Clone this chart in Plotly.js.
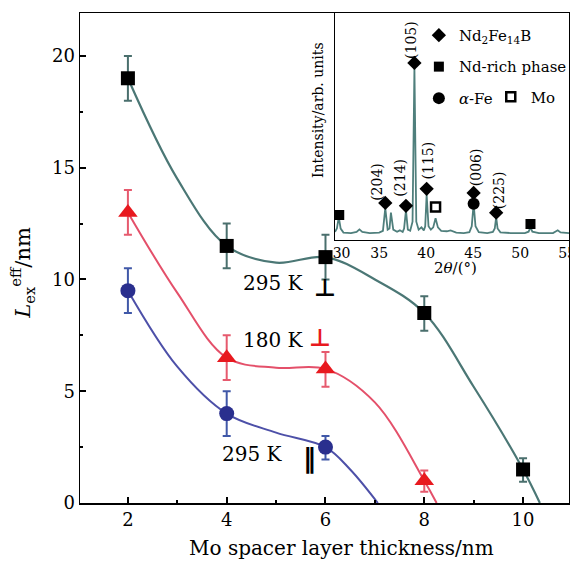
<!DOCTYPE html>
<html>
<head>
<meta charset="utf-8">
<script src="https://cdn.plot.ly/plotly-3.0.1.min.js"></script>
<style>html,body{margin:0;padding:0;background:#fff;}#chart{width:570px;height:561px;}</style>
</head>
<body>
<div id="chart"></div>
<script>
// ---- Main plot data ----
const thickness = [2, 4, 6, 8, 10];
const perp295 = [19, 11.5, 11, 8.5, 1.5];
const perp295ErrPlus = [1, 1, 1, 0.75, 0.5];
const perp295ErrMinus = [1, 1, 1, 0.8, 0.55];
const perp180 = [13, 6.5, 6, 1];
const perp180ErrPlus = [1, 1, 0.75, 0.45];
const perp180ErrMinus = [1, 1, 0.8, 0.5];
const par295 = [9.5, 4, 2.5];
const par295ErrPlus = [1, 1, 0.5];
const par295ErrMinus = [1, 1, 0.55];

// fitted guide curves
const fitPerp295X = [2, 3, 4, 5, 6, 7, 8, 9, 10, 10.34];
const fitPerp295Y = [19, 14.5, 11.5, 10.75, 11, 10, 8.5, 5.2, 1.5, 0];
const fitPerp180X = [2, 3, 4, 5, 6, 7, 8, 8.25];
const fitPerp180Y = [13, 9.4, 6.5, 6.05, 6, 4.5, 1, 0];
const fitPar295X = [2, 3, 4, 5, 6, 6.5, 7.06];
const fitPar295Y = [9.5, 6.1, 4, 3.15, 2.5, 1.5, 0];

const xTicks = [2, 4, 6, 8, 10];
const yTicks = [0, 5, 10, 15, 20];

// ---- Inset XRD data ----
const xrdTheta = [30.3, 30.5, 30.7, 30.9, 31.2, 32.0, 32.6, 32.9, 33.2, 34.0, 35.0, 35.4, 35.65, 35.9, 36.1, 36.25, 36.5, 36.9, 37.2, 37.5, 37.65, 37.85, 38.05, 38.3, 38.55, 38.75, 38.95, 39.2, 39.5, 39.75, 39.9, 40.05, 40.25, 40.5, 40.75, 41.0, 41.25, 41.6, 42.2, 42.6, 43.2, 44.0, 44.6, 44.85, 45.05, 45.25, 45.6, 46.5, 47.1, 47.3, 47.45, 47.6, 47.9, 49.0, 50.5, 50.9, 51.1, 51.3, 52.0, 53.5, 54.0, 54.3, 55.2];
const xrdIntensity = [3.5, 5, 10, 5, 3.2, 3.0, 3.5, 4.6, 3.5, 3.0, 3.2, 4, 14, 4.5, 5, 12, 4.5, 3.6, 4.2, 3.5, 5, 13, 4.5, 4, 8, 76, 8, 4.5, 5.5, 4.2, 6, 20, 6, 4.5, 5.5, 9.5, 5.5, 4, 3.8, 4.2, 3.2, 3, 3.4, 6, 16, 6, 3.4, 3, 3.5, 5, 10, 5, 3.3, 3, 3, 3.6, 5.5, 3.6, 3, 3, 4.2, 3.3, 3];

const nd2fe14bTheta = [35.65, 37.85, 38.75, 40.05, 45.05, 47.45];
const nd2fe14bMark = [16.3, 15, 78, 22.5, 20.7, 12];
const ndRichTheta = [30.75, 51.1];
const ndRichMark = [11, 7];
const alphaFeTheta = [45.05];
const alphaFeMark = [15.9];
const moTheta = [41.0];
const moMark = [14.5];

const peakLabels = ['(204)', '(214)', '(105)', '(115)', '(006)', '(225)'];
const peakLabelTheta = [34.75, 37.19, 38.46, 40.15, 45.24, 47.78];
const peakLabelY = [25.5, 27.3, 88, 34.8, 32.2, 22];

const insetTickVals = [31.0, 35, 40, 45, 50, 55];
const insetTickText = ['30', '35', '40', '45', '50', '55'];

const FONT = 'DejaVu Serif, Liberation Serif, serif';
const cBlackLine = '#4b7775';
const cRedLine = '#e4506a';
const cBlueLine = '#4d50a8';

const traces = [
  {x: fitPerp295X, y: fitPerp295Y, mode: 'lines', line: {shape: 'spline', smoothing: 1, color: cBlackLine, width: 2.2}, showlegend: false, hoverinfo: 'skip'},
  {x: fitPerp180X, y: fitPerp180Y, mode: 'lines', line: {shape: 'spline', smoothing: 1, color: cRedLine, width: 2}, showlegend: false, hoverinfo: 'skip'},
  {x: fitPar295X, y: fitPar295Y, mode: 'lines', line: {shape: 'spline', smoothing: 1, color: cBlueLine, width: 2}, showlegend: false, hoverinfo: 'skip'},
  {x: thickness, y: perp295, mode: 'markers', marker: {symbol: 'square', size: 14, color: '#000'},
   error_y: {type: 'data', array: perp295ErrPlus, arrayminus: perp295ErrMinus, color: '#4a6f6d', thickness: 2, width: 4}, showlegend: false},
  {x: thickness.slice(0, perp180.length), y: perp180, mode: 'markers', marker: {symbol: 'triangle-up', size: 17, color: '#e8191f'},
   error_y: {type: 'data', array: perp180ErrPlus, arrayminus: perp180ErrMinus, color: '#e65a6e', thickness: 2, width: 4}, showlegend: false},
  {x: thickness.slice(0, par295.length), y: par295, mode: 'markers', marker: {symbol: 'circle', size: 15, color: '#2a2f8e'},
   error_y: {type: 'data', array: par295ErrPlus, arrayminus: par295ErrMinus, color: '#4058a8', thickness: 2, width: 4}, showlegend: false},
  // inset
  {x: xrdTheta, y: xrdIntensity, xaxis: 'x2', yaxis: 'y2', mode: 'lines', line: {color: '#4f7f7c', width: 1.8}, showlegend: false, hoverinfo: 'skip'},
  {x: nd2fe14bTheta, y: nd2fe14bMark, xaxis: 'x2', yaxis: 'y2', mode: 'markers', name: 'Nd<sub>2</sub>Fe<sub>14</sub>B',
   marker: {symbol: 'diamond', size: 11, color: '#000'}, legend: 'legend', legendgroup: 'a'},
  {x: ndRichTheta, y: ndRichMark, xaxis: 'x2', yaxis: 'y2', mode: 'markers', name: 'Nd-rich phase',
   marker: {symbol: 'square', size: 10, color: '#000'}, legend: 'legend', legendgroup: 'b'},
  {x: alphaFeTheta, y: alphaFeMark, xaxis: 'x2', yaxis: 'y2', mode: 'markers', name: '<i>α</i>-Fe',
   marker: {symbol: 'circle', size: 12, color: '#000'}, legend: 'legend', legendgroup: 'c'},
  {x: moTheta, y: moMark, xaxis: 'x2', yaxis: 'y2', mode: 'markers', name: 'Mo',
   marker: {symbol: 'square-open', size: 9, color: '#000', line: {width: 2.5}}, legend: 'legend2', legendgroup: 'd'}
];

const C = {xanchor: 'center', yanchor: 'middle', showarrow: false};
const annotations = [
  Object.assign({xref: 'paper', yref: 'paper', x: -0.1186, y: 0.47, text: '<i>L</i><sub>ex</sub><sup>eff</sup>/nm', textangle: -90, font: {family: FONT, size: 21, color: '#000'}}, C),
  Object.assign({xref: 'paper', yref: 'paper', x: 0.534, y: -0.0918, text: 'Mo spacer layer thickness/nm', font: {family: FONT, size: 20, color: '#000'}}, C),
  Object.assign({xref: 'x', yref: 'y', x: 4.94, y: 9.84, text: '295 K', font: {family: FONT, size: 20, color: '#000'}}, C),
  Object.assign({xref: 'x', yref: 'y', x: 5.98, y: 9.6, text: '<b>⊥</b>', font: {family: 'DejaVu Sans', size: 24, color: '#000'}}, C),
  Object.assign({xref: 'x', yref: 'y', x: 4.94, y: 7.29, text: '180 K', font: {family: FONT, size: 20, color: '#000'}}, C),
  Object.assign({xref: 'x', yref: 'y', x: 5.88, y: 7.4, text: '<b>⊥</b>', font: {family: 'DejaVu Sans', size: 24, color: '#e8191f'}}, C),
  Object.assign({xref: 'x', yref: 'y', x: 4.53, y: 2.2, text: '295 K', font: {family: FONT, size: 20, color: '#000'}}, C),
  Object.assign({xref: 'x', yref: 'y', x: 5.68, y: 2.0, text: '<b>‖</b>', font: {family: 'DejaVu Sans', size: 26, color: '#000'}}, C),
  Object.assign({xref: 'paper', yref: 'paper', x: 0.4867, y: 0.802, text: 'Intensity/arb. units', textangle: -90, font: {family: FONT, size: 14, color: '#000'}}, C),
  Object.assign({xref: 'paper', yref: 'paper', x: 0.767, y: 0.48, text: '2<i>θ</i>/(°)', font: {family: FONT, size: 15, color: '#000'}}, C)
];
peakLabels.forEach((t, i) => {
  annotations.push(Object.assign({xref: 'x2', yref: 'y2', x: peakLabelTheta[i], y: peakLabelY[i], text: t, textangle: -90, font: {family: FONT, size: 14, color: '#000'}}, C));
});

const layout = {
  width: 570, height: 561,
  margin: {l: 80, r: 1, t: 13, b: 58, autoexpand: false},
  paper_bgcolor: '#fff', plot_bgcolor: '#fff',
  font: {family: FONT, color: '#000'},
  xaxis: {domain: [0, 1], range: [1.03, 10.93], tickvals: xTicks, ticks: 'inside', ticklen: 6, tickwidth: 2, tickcolor: '#000',
    minor: {dtick: 1, ticks: 'inside', ticklen: 3, tickwidth: 2, tickcolor: '#000'},
    showline: true, mirror: true, linecolor: '#000', linewidth: 1.5, showgrid: false, zeroline: false,
    tickfont: {family: FONT, size: 18}},
  yaxis: {domain: [0, 1], range: [0, 21.92], tickvals: yTicks, ticks: 'inside', ticklen: 6, tickwidth: 2, tickcolor: '#000',
    minor: {dtick: 2.5, ticks: 'inside', ticklen: 3, tickwidth: 2, tickcolor: '#000'},
    showline: true, mirror: true, linecolor: '#000', linewidth: 1.5, showgrid: false, zeroline: false,
    tickfont: {family: FONT, size: 18}},
  xaxis2: {domain: [0.5215, 1], anchor: 'y2', range: [30.3, 55.2], tickvals: insetTickVals, ticktext: insetTickText, ticks: '',
    showline: true, mirror: true, linecolor: '#000', linewidth: 1.5, showgrid: false, zeroline: false,
    ticklabeloverflow: 'allow', tickfont: {family: FONT, size: 14}},
  yaxis2: {domain: [0.537, 1], anchor: 'x2', range: [0, 100], showticklabels: false, ticks: '',
    showline: true, mirror: true, linecolor: '#000', linewidth: 1.5, showgrid: false, zeroline: false},
  legend: {x: 0.693, y: 0.988, xanchor: 'left', yanchor: 'top', bgcolor: 'rgba(0,0,0,0)', font: {family: FONT, size: 15, color: '#000'}, tracegroupgap: 9, itemwidth: 30},
  legend2: {x: 0.84, y: 0.862, xanchor: 'left', yanchor: 'top', bgcolor: 'rgba(0,0,0,0)', font: {family: FONT, size: 15, color: '#000'}, itemwidth: 30},
  annotations: annotations,
  showlegend: true
};

Plotly.newPlot('chart', traces, layout, {displayModeBar: false, staticPlot: true});
</script>
</body>
</html>
